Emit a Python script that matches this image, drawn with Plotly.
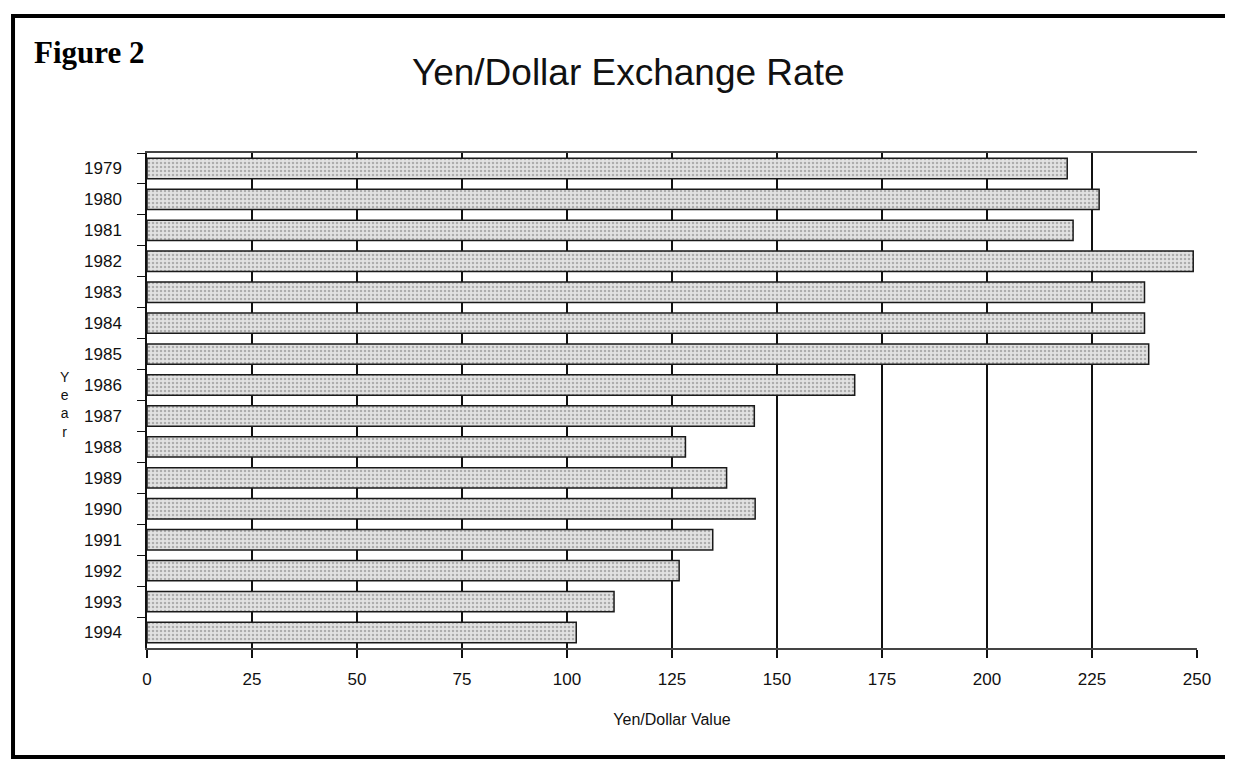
import plotly.graph_objects as go

years = ["1979", "1980", "1981", "1982", "1983", "1984", "1985", "1986",
         "1987", "1988", "1989", "1990", "1991", "1992", "1993", "1994"]
yen_per_dollar = [219.1, 226.7, 220.5, 249.1, 237.5, 237.5, 238.5, 168.5,
                  144.6, 128.2, 138.0, 144.8, 134.7, 126.7, 111.2, 102.2]
x_ticks = [0, 25, 50, 75, 100, 125, 150, 175, 200, 225, 250]

fig = go.Figure()
fig.add_trace(
    go.Bar(
        x=yen_per_dollar,
        y=years,
        orientation="h",
        marker={
            "color": "#e2e2e2",
            "line": {"color": "#1a1a1a", "width": 1.5},
            "pattern": {"shape": ".", "fgcolor": "#777777", "size": 4, "solidity": 0.3},
        },
        hovertemplate="%{y}: %{x}<extra></extra>",
    )
)

fig.update_layout(
    width=1233,
    height=762,
    paper_bgcolor="white",
    plot_bgcolor="white",
    font={"family": "Liberation Sans, Arial, sans-serif", "color": "#111111"},
    margin={"l": 139, "r": 44, "t": 145, "b": 122},
    bargap=0.34,
    showlegend=False,
    title={
        "text": "Yen/Dollar Exchange Rate",
        "x": 0.503,
        "xanchor": "center",
        "y": 0.916,
        "yanchor": "middle",
        "font": {"size": 37, "family": "Liberation Sans, Arial, sans-serif", "color": "#111111"},
    },
)

fig.update_xaxes(
    range=[0, 250],
    tickvals=x_ticks,
    ticks="outside",
    ticklen=8,
    tickwidth=1.5,
    tickcolor="#111111",
    tickfont={"size": 17},
    ticklabelstandoff=7,
    showgrid=True,
    gridcolor="#111111",
    gridwidth=1.5,
    zeroline=False,
    showline=True,
    linecolor="#444444",
    linewidth=1.5,
    mirror=True,
    title={"text": "Yen/Dollar Value", "font": {"size": 16}, "standoff": 26},
)

fig.update_yaxes(
    autorange="reversed",
    ticks="outside",
    tickson="boundaries",
    ticklen=8,
    tickwidth=1,
    tickcolor="#111111",
    tickfont={"size": 17},
    ticklabelstandoff=20,
    showgrid=False,
    zeroline=False,
    showline=True,
    linecolor="#111111",
    linewidth=1.5,
)

# outer frame of the scanned figure
fig.add_shape(type="rect", xref="paper", yref="paper", x0=-0.1276, x1=1.1,
              y0=-0.2202, y1=1.2768, line={"color": "#000000", "width": 4})

fig.add_annotation(text="<b>Figure 2</b>", xref="paper", yref="paper",
                   x=-0.1095, y=1.204, xanchor="left", yanchor="middle", showarrow=False,
                   font={"family": "Liberation Serif, Times New Roman, serif", "size": 31, "color": "#000000"})

fig.add_annotation(text="Y<br>e<br>a<br>r", xref="paper", yref="paper",
                   x=-0.078, y=0.491, xanchor="center", yanchor="middle", showarrow=False,
                   align="center", font={"size": 14, "color": "#111111"})

fig.write_html("out.html")
